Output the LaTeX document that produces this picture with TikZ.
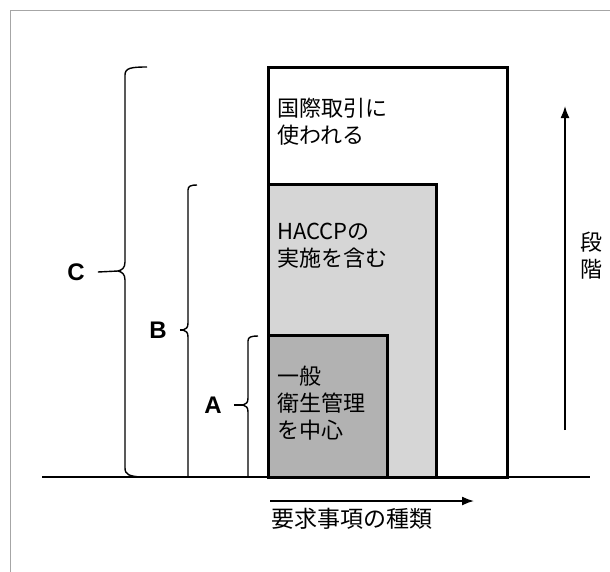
\documentclass[tikz,border=0pt]{standalone}
\usepackage{fontspec}
\newfontfamily\jp{Noto Sans CJK JP}
\newfontfamily\lab{Liberation Sans}
\usetikzlibrary{arrows.meta}
\definecolor{lightfill}{gray}{0.84}
\definecolor{darkfill}{gray}{0.70}
\begin{document}
\begin{tikzpicture}[x=1pt,y=-1pt,
  stage/.style={line width=3pt, line join=miter},
  bracestyle/.style={line width=1.4pt, line join=round},
  jptext/.style={font=\jp\fontsize{22}{27}\selectfont, inner sep=0pt, anchor=base west, align=left},
  letter/.style={font=\lab\bfseries\fontsize{24}{24}\selectfont, inner sep=0pt},
  arr/.style={line width=1.6pt, -{Latex[length=12pt,width=9pt]}}]
\useasboundingbox (0,0) rectangle (610,571);
% scan frame
\draw[gray!70, line width=0.8pt] (10.5,572) -- (10.5,10.5) -- (611,10.5);
% stage boxes
\draw[stage, fill=white] (268,67) rectangle (507,477);
\draw[stage, fill=lightfill] (268,184) rectangle (436,477);
\draw[stage, fill=darkfill] (268,335) rectangle (387,477);
% base line
\draw[line width=2.2pt] (42,477) -- (590,477);
% texts in boxes (anchor = baseline of last line)
\node[jptext] (tC) at (277,143) {国際取引に\\使われる};
\node[jptext] (tB) at (277,266) {HACCPの\\実施を含む};
\node[jptext] (tA) at (277,438) {一般\\衛生管理\\を中心};
% braces
\coordinate (cC) at (118,271);
\coordinate (cB) at (183,330);
\coordinate (cA) at (243,405);
\draw[bracestyle] (147,67) .. controls (131,67) and (125,68) .. (125,75) -- (125,262)
  .. controls (125,268) and (122,270) .. (cC) .. controls (122,272) and (125,274) .. (125,280)
  -- (125,468) .. controls (125,475) and (130,476) .. (140,477);
\draw[bracestyle] (197,185) .. controls (191,185) and (188,186) .. (188,190) -- (188,323)
  .. controls (188,328) and (186,329) .. (cB) .. controls (186,331) and (188,332) .. (188,337)
  -- (188,477);
\draw[bracestyle] (258,336) .. controls (251,336) and (248,337) .. (248,341) -- (248,398)
  .. controls (248,403) and (246,404) .. (cA) .. controls (246,406) and (248,407) .. (248,412)
  -- (248,477);
% brace labels
\node[letter] (lC) at (76,272) {C};
\node[letter] (lB) at (158,330) {B};
\node[letter] (lA) at (213,405) {A};
\draw[bracestyle] (lC.east) ++(13,0) -- (cC);
\draw[bracestyle] (lB.east) ++(13,0) -- (cB);
\draw[bracestyle] (lA.east) ++(12,0) -- (cA);
% axes arrows
\coordinate (u0) at (565,430);
\coordinate (u1) at (565,106);
\draw[arr] (u0) -- (u1);
\node[jptext] (dan) at (580,277) {段\\階};
\coordinate (h0) at (270,501);
\coordinate (h1) at (474,501);
\draw[arr] (h0) -- (h1);
\node[jptext, font=\jp\fontsize{23}{27}\selectfont] (kind) at (271,527) {要求事項の種類};
\end{tikzpicture}
\end{document}
